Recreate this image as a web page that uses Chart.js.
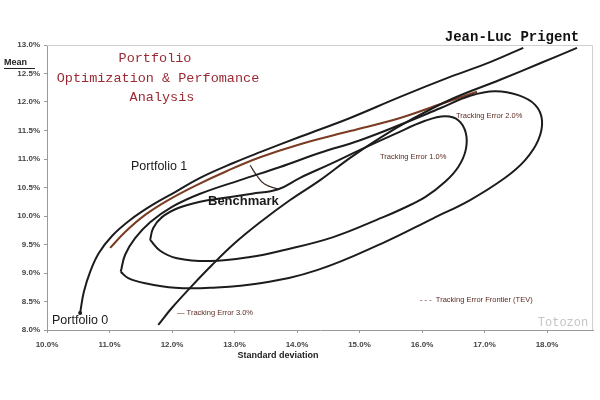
<!DOCTYPE html>
<html>
<head>
<meta charset="utf-8">
<script src="https://cdn.jsdelivr.net/npm/chart.js@4.4.0/dist/chart.umd.min.js"></script>
<style>
  html, body { margin: 0; padding: 0; background: #fff; }
  #wrap { width: 600px; height: 400px; position: relative; }
</style>
</head>
<body>
<div id="wrap"><canvas id="chart" width="600" height="400"></canvas></div>
<script>
// ---- data (standard deviation %, mean %) ----
const xTickLabels = ['10.0%', '11.0%', '12.0%', '13.0%', '14.0%', '15.0%', '16.0%', '17.0%', '18.0%'];
const yTickLabels = ['8.0%', '8.5%', '9.0%', '9.5%', '10.0%', '10.5%', '11.0%', '11.5%', '12.0%', '12.5%', '13.0%'];

// efficient frontier starting at portfolio 0
const frontierX = [10.53, 10.59, 10.69, 10.83, 11.04, 11.33, 11.68, 12.05, 12.45, 12.98, 13.41, 14.05, 14.85, 15.65, 16.45, 17.09, 17.62];
const frontierY = [8.30, 8.67, 9.02, 9.35, 9.65, 9.93, 10.19, 10.42, 10.67, 10.93, 11.12, 11.39, 11.72, 12.09, 12.44, 12.70, 12.95];

// portfolio 1 curve (brown)
const port1X = [11.01, 11.25, 11.57, 11.94, 12.37, 12.88, 13.41, 14.05, 14.85, 15.65, 16.29, 16.88];
const port1Y = [9.44, 9.72, 10.02, 10.28, 10.53, 10.79, 11.03, 11.26, 11.49, 11.72, 11.96, 12.18];

// tracking error frontier
const teFrontX = [11.78, 12.00, 12.29, 12.64, 13.01, 13.41, 13.89, 14.37, 14.85, 15.33, 15.81, 16.45, 17.25, 17.89, 18.48];
const teFrontY = [8.09, 8.39, 8.74, 9.14, 9.53, 9.89, 10.28, 10.63, 11.02, 11.37, 11.68, 12.04, 12.39, 12.68, 12.95];

// constant tracking error ellipses
const outerX = [11.18, 11.25, 11.41, 11.65, 12.00, 12.45, 13.09, 13.73, 14.37, 15.01, 15.65, 16.29, 16.77, 17.17, 17.54, 17.81, 17.92, 17.86, 17.65, 17.33, 16.77, 16.18, 15.38, 14.32, 13.41, 12.61, 12.05, 11.57, 11.30, 11.18];
const outerY = [9.02, 9.32, 9.61, 9.89, 10.16, 10.39, 10.63, 10.86, 11.11, 11.33, 11.60, 11.89, 12.11, 12.19, 12.12, 11.95, 11.68, 11.33, 10.98, 10.67, 10.28, 9.96, 9.53, 9.05, 8.82, 8.74, 8.74, 8.82, 8.91, 9.02];
const innerX = [11.65, 11.70, 11.84, 12.10, 12.45, 12.85, 13.28, 13.70, 14.05, 14.53, 15.01, 15.57, 16.05, 16.37, 16.58, 16.70, 16.70, 16.58, 16.37, 16.05, 15.65, 15.38, 14.58, 13.78, 13.25, 12.61, 12.08, 11.81, 11.65];
const innerY = [9.58, 9.79, 9.98, 10.14, 10.25, 10.32, 10.39, 10.47, 10.67, 10.91, 11.16, 11.44, 11.67, 11.75, 11.68, 11.46, 11.16, 10.86, 10.60, 10.33, 10.11, 9.98, 9.63, 9.40, 9.28, 9.21, 9.26, 9.39, 9.58];

// pointer from the "Benchmark" label
const arrowX = [13.25, 13.35, 13.48, 13.70];
const arrowY = [10.89, 10.72, 10.56, 10.47];

function zip(xs, ys) {
    return xs.map((x, i) => ({ x: x, y: ys[i] }));
}

function curve(xs, ys, color, width) {
    return {
        data: zip(xs, ys),
        showLine: true,
        borderColor: color,
        borderWidth: width,
        pointRadius: 0,
        tension: 0.4,
        clip: false
    };
}

// labels, titles and frame
const decor = {
    id: 'decor',
    afterDraw(chart) {
        const ctx = chart.ctx;
        const a = chart.chartArea;
        ctx.save();

        ctx.strokeStyle = '#cfcfcf';
        ctx.lineWidth = 1;
        ctx.beginPath();
        ctx.moveTo(a.left, a.top + 0.5);
        ctx.lineTo(a.right - 0.5, a.top + 0.5);
        ctx.lineTo(a.right - 0.5, a.bottom);
        ctx.stroke();

        ctx.textBaseline = 'middle';
        ctx.textAlign = 'center';
        ctx.fillStyle = '#9a2a34';
        ctx.font = '13.5px "Liberation Mono", monospace';
        ctx.fillText('Portfolio', 155, 58);
        ctx.fillText('Optimization & Perfomance', 158, 78);
        ctx.fillText('Analysis', 162, 97);

        ctx.fillStyle = '#111';
        ctx.font = 'bold 14px "Liberation Mono", monospace';
        ctx.fillText('Jean-Luc Prigent', 512, 37);

        ctx.fillStyle = '#c4c4c4';
        ctx.font = '12px "Liberation Mono", monospace';
        ctx.fillText('Totozon', 563, 323);

        ctx.fillStyle = '#222';
        ctx.font = 'bold 9px "Liberation Sans", sans-serif';
        ctx.textAlign = 'left';
        ctx.fillText('Mean', 4, 63);
        ctx.fillRect(4, 68, 31, 1);
        ctx.textAlign = 'center';
        ctx.fillText('Standard deviation', 278, 356);

        ctx.fillStyle = '#1a1a1a';
        ctx.textAlign = 'left';
        ctx.font = '12.5px "Liberation Sans", sans-serif';
        ctx.fillText('Portfolio 0', 52, 321);
        ctx.fillText('Portfolio 1', 131, 167);
        ctx.font = 'bold 13px "Liberation Sans", sans-serif';
        ctx.fillText('Benchmark', 208, 201);

        ctx.fillStyle = '#5a2a22';
        ctx.font = '7.5px "Liberation Sans", sans-serif';
        ctx.fillText('Tracking Error 1.0%', 380, 157);
        ctx.fillText('Tracking Error 2.0%', 456, 116);
        ctx.fillText('\u2014 Tracking Error 3.0%', 177, 313);
        ctx.fillText('- - -  Tracking Error Frontier (TEV)', 420, 300);

        ctx.restore();
    }
};

new Chart(document.getElementById('chart'), {
    type: 'scatter',
    data: {
        datasets: [
            curve(outerX, outerY, '#1c1c1c', 2),
            curve(innerX, innerY, '#1c1c1c', 2),
            curve(teFrontX, teFrontY, '#1c1c1c', 2),
            curve(frontierX, frontierY, '#1c1c1c', 2),
            curve(port1X, port1Y, '#7a3b22', 2),
            curve(arrowX, arrowY, '#3a2a22', 1.2),
            {
                data: [{ x: frontierX[0], y: frontierY[0] }],
                pointRadius: 2,
                pointBackgroundColor: '#1c1c1c',
                pointBorderWidth: 0
            }
        ]
    },
    options: {
        responsive: false,
        animation: false,
        layout: { padding: { top: 45, right: 7, left: 0, bottom: 0 } },
        plugins: {
            legend: { display: false },
            tooltip: { enabled: false }
        },
        scales: {
            x: {
                type: 'linear',
                min: 10,
                max: 18.736,
                afterFit(scale) { scale.height = 70; },
                border: { color: '#9a9a9a' },
                grid: { drawOnChartArea: false, tickLength: 3, color: '#9a9a9a' },
                ticks: {
                    stepSize: 1,
                    includeBounds: false,
                    maxRotation: 0,
                    padding: 7,
                    color: '#444',
                    font: { size: 8, weight: 'bold', family: 'Liberation Sans' },
                    callback: (v) => xTickLabels[Math.round(v - 10)] || ''
                }
            },
            y: {
                type: 'linear',
                min: 8,
                max: 13,
                afterFit(scale) { scale.width = 47; },
                border: { color: '#9a9a9a' },
                grid: { drawOnChartArea: false, tickLength: 3, color: '#9a9a9a' },
                ticks: {
                    stepSize: 0.5,
                    padding: 4,
                    color: '#444',
                    font: { size: 8, weight: 'bold', family: 'Liberation Sans' },
                    callback: (v) => yTickLabels[Math.round((v - 8) * 2)] || ''
                }
            }
        }
    },
    plugins: [decor]
});
</script>
</body>
</html>
